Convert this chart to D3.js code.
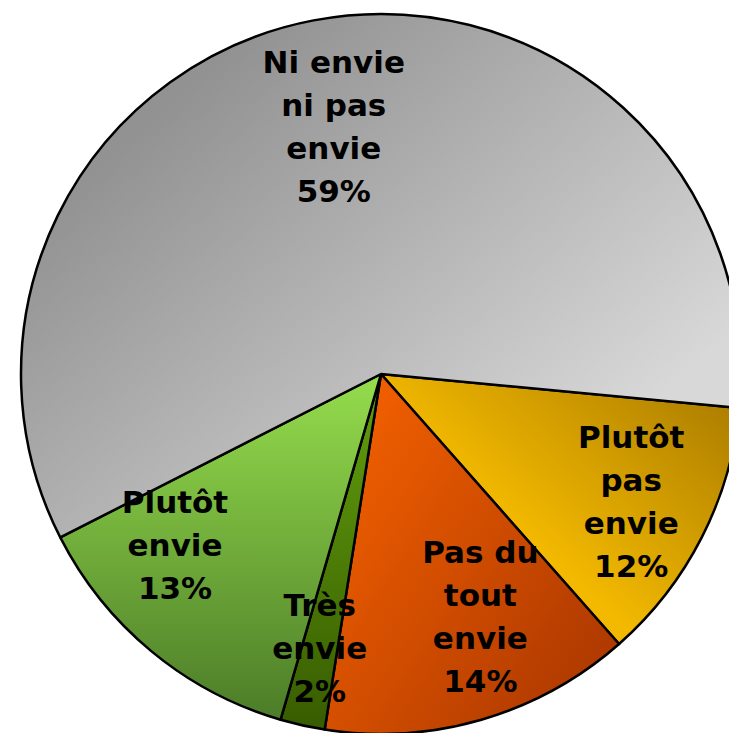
<!DOCTYPE html>
<html>
<head>
<meta charset="utf-8">
<script src="https://cdn.jsdelivr.net/npm/d3@7"></script>
<style>
  html, body { margin: 0; padding: 0; background: #fff; }
  svg { display: block; }
  .lbl { font-family: "DejaVu Sans", sans-serif; font-weight: bold; font-size: 31px; fill: #000; }
</style>
</head>
<body>
<div id="chart"></div>
<script>
/* data, clockwise starting just below 3 o'clock */
var categories = ["Plutôt pas envie", "Pas du tout envie", "Très envie", "Plutôt envie", "Ni envie ni pas envie"];
var values = [12, 14, 2, 13, 59];
var labelLines = [
  ["Plutôt", "pas", "envie"],
  ["Pas du", "tout", "envie"],
  ["Très", "envie"],
  ["Plutôt", "envie"],
  ["Ni envie", "ni pas", "envie"]
];

/* colours: gradient stops + direction (bbox, or user space around the centre) */
var fills = [
  {from: "#f3b900", to: "#ab7c00", x1: 0.4, y1: 0.6, x2: 1, y2: 0.1},
  {from: "#f66200", to: "#a93600", x1: 0, y1: 0.1, x2: 1, y2: 0.9},
  {from: "#62a00e", to: "#385c00", x1: 0, y1: 0, x2: 0, y2: 1},
  {from: "#95dd4d", to: "#4c7c28", x1: 0, y1: 0, x2: 0, y2: 1},
  {from: "#929292", to: "#d8d8d8", x1: -191, y1: -289, x2: 170, y2: 120, user: true}
];
// label placement tweaks (radius factor, dx, dy)
var labelPos = [
  {k: 0.78, dx: 0, dy: 0},
  {k: 0.78, dx: 21, dy: -27},
  {k: 0.78, dx: 0, dy: 0},
  {k: 0.78, dx: -27, dy: -45},
  {k: 0.70, dx: 0, dy: 0}
];

var width = 729, height = 733;
var cx = 381, cy = 374, radius = 360;
var lineH = 43;

var svg = d3.select("#chart").append("svg")
  .attr("width", width)
  .attr("height", height);

var defs = svg.append("defs");
fills.forEach(function (f, i) {
  var g = defs.append("linearGradient")
    .attr("id", "grad" + i)
    .attr("x1", f.x1).attr("y1", f.y1)
    .attr("x2", f.x2).attr("y2", f.y2);
  if (f.user) g.attr("gradientUnits", "userSpaceOnUse");
  g.append("stop").attr("offset", "0%").attr("stop-color", f.from);
  g.append("stop").attr("offset", "100%").attr("stop-color", f.to);
});

var startDeg = 95.4;
var pie = d3.pie()
  .sort(null)
  .startAngle(startDeg * Math.PI / 180)
  .endAngle((startDeg + 360) * Math.PI / 180);

var arcs = pie(values);

var arc = d3.arc().innerRadius(0).outerRadius(radius);

var g = svg.append("g").attr("transform", "translate(" + cx + "," + cy + ")");

g.selectAll("path.slice")
  .data(arcs)
  .enter().append("path")
  .attr("class", "slice")
  .attr("d", arc)
  .attr("fill", function (d, i) { return "url(#grad" + i + ")"; })
  .attr("stroke", "#000")
  .attr("stroke-width", 2.5)
  .attr("stroke-linejoin", "round");

var labels = g.selectAll("text.lbl")
  .data(arcs)
  .enter().append("text")
  .attr("class", "lbl")
  .attr("text-anchor", "middle")
  .attr("transform", function (d, i) {
    var p = labelPos[i];
    var r = radius * p.k;
    var c = d3.arc().innerRadius(r).outerRadius(r).centroid(d);
    return "translate(" + (c[0] + p.dx) + "," + (c[1] + p.dy) + ")";
  });

labels.each(function (d, i) {
  var lines = labelLines[i].concat([Math.round(values[i]) + "%"]);
  var first = -(lines.length - 1) * lineH / 2 + 11;
  d3.select(this).selectAll("tspan")
    .data(lines)
    .enter().append("tspan")
    .attr("x", 0)
    .attr("y", function (t, j) { return first + j * lineH; })
    .text(function (t) { return t; });
});
</script>
</body>
</html>
